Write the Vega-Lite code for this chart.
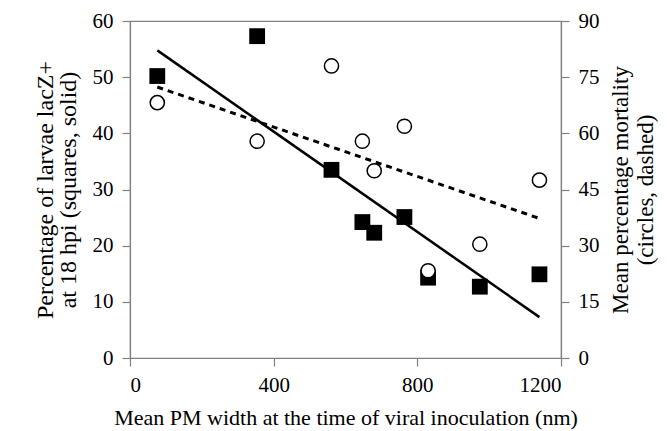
{
  "$schema": "https://vega.github.io/schema/vega-lite/v6.json",
  "width": 431,
  "height": 337,
  "autosize": {"type": "none"},
  "padding": {"left": 130, "top": 21, "right": 106, "bottom": 73},
  "background": "white",
  "config": {
    "view": {"stroke": "#808080", "strokeWidth": 1.2},
    "font": "Times New Roman",
    "axis": {
      "grid": false,
      "domainColor": "#808080",
      "domainWidth": 1.2,
      "tickColor": "#808080",
      "tickWidth": 1.2,
      "tickSize": 8,
      "labelFont": "Times New Roman",
      "labelFontSize": 21,
      "labelColor": "black",
      "titleFont": "Times New Roman",
      "titleFontSize": 22,
      "titleFontWeight": "normal",
      "titleColor": "black"
    }
  },
  "data": {
    "values": [
      {"x": 76, "lacZ": 50.2, "mort": 68.2},
      {"x": 354, "lacZ": 57.3, "mort": 57.9},
      {"x": 561, "lacZ": 33.5, "mort": 78.0},
      {"x": 647, "lacZ": 24.2, "mort": 57.9},
      {"x": 680, "lacZ": 22.3, "mort": 50.0},
      {"x": 764, "lacZ": 25.1, "mort": 61.9},
      {"x": 830, "lacZ": 14.3, "mort": 23.3},
      {"x": 974, "lacZ": 12.7, "mort": 30.4},
      {"x": 1140, "lacZ": 14.9, "mort": 47.5}
    ]
  },
  "encoding": {
    "x": {
      "field": "x",
      "type": "quantitative",
      "scale": {"domain": [0, 1200], "nice": false, "zero": false},
      "axis": {
        "values": [0, 400, 800, 1200],
        "format": "d",
        "labelFont": "Times New Roman",
        "title": "Mean PM width at the time of viral inoculation (nm)",
        "titleFontSize": 22,
        "labelPadding": 8,
        "titlePadding": 12
      }
    }
  },
  "layer": [
    {
      "encoding": {
        "y": {
          "field": "lacZ",
          "type": "quantitative",
          "scale": {"domain": [0, 60], "nice": false},
          "axis": {
            "orient": "left",
            "values": [0, 10, 20, 30, 40, 50, 60],
            "labelFont": "Times New Roman",
            "title": ["Percentage of larvae lacZ+", "at 18 hpi (squares, solid)"],
            "titleFontSize": 24,
            "titleLineHeight": 23,
            "labelPadding": 9,
            "titlePadding": 12
          }
        }
      },
      "layer": [
        {
          "mark": {"type": "point", "shape": "square", "filled": true, "color": "black", "size": 250, "opacity": 1}
        },
        {
          "transform": [{"regression": "lacZ", "on": "x"}],
          "mark": {"type": "line", "color": "black", "strokeWidth": 2.5}
        }
      ]
    },
    {
      "encoding": {
        "y": {
          "field": "mort",
          "type": "quantitative",
          "scale": {"domain": [0, 90], "nice": false},
          "axis": {
            "orient": "right",
            "values": [0, 15, 30, 45, 60, 75, 90],
            "labelFont": "Times New Roman",
            "title": ["Mean percentage mortality", "(circles, dashed)"],
            "titleAngle": 270,
            "titleFontSize": 23,
            "titleLineHeight": 25,
            "titleBaseline": "bottom",
            "labelPadding": 9,
            "titlePadding": 8
          }
        }
      },
      "layer": [
        {
          "mark": {"type": "point", "shape": "circle", "filled": true, "fill": "white", "stroke": "black", "strokeWidth": 1.5, "size": 200, "opacity": 1}
        },
        {
          "transform": [{"regression": "mort", "on": "x"}],
          "mark": {"type": "line", "color": "black", "strokeWidth": 3, "strokeDash": [6, 5]}
        }
      ]
    }
  ],
  "resolve": {"scale": {"y": "independent"}}
}
